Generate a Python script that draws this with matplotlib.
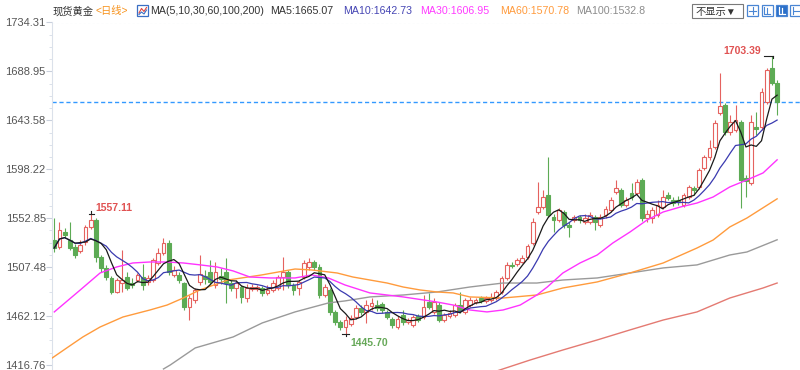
import matplotlib.pyplot as plt
import numpy as np
import pandas as pd
from matplotlib.patches import Rectangle
from matplotlib.lines import Line2D

plt.rcParams['font.family'] = ['Liberation Sans', 'Noto Sans CJK SC', 'DejaVu Sans']

# daily OHLC, spot gold
opens = [
    1532.6, 1526.1, 1540.0, 1532.6, 1526.1, 1522.4, 1530.8, 1544.7, 1551.2, 1516.9,
    1506.7, 1497.4, 1484.4, 1492.7, 1498.3, 1492.7, 1495.5, 1498.3, 1493.7, 1495.5,
    1511.3, 1520.6, 1529.8, 1500.2, 1500.2, 1492.7, 1470.5, 1477.0, 1493.7, 1499.2,
    1503.0, 1490.9, 1499.2, 1503.0, 1492.7, 1488.1, 1489.0, 1478.8, 1487.2, 1487.2,
    1488.1, 1483.5, 1486.3, 1488.1, 1498.3, 1503.0, 1490.9, 1488.1, 1498.3, 1507.6,
    1512.2, 1507.6, 1481.6, 1486.3, 1465.9, 1456.6, 1451.9, 1454.7, 1461.2, 1469.6,
    1465.9, 1471.4, 1472.3, 1473.3, 1465.9, 1459.4, 1451.9, 1463.1, 1456.6, 1453.8,
    1462.1, 1461.2, 1475.1, 1465.9, 1472.3, 1458.4, 1462.1, 1463.1, 1472.3, 1465.9,
    1472.3, 1475.1, 1478.8, 1476.1, 1477.0, 1478.8, 1484.4, 1497.4, 1509.5, 1510.4,
    1512.2, 1516.9, 1529.8, 1558.6, 1563.2, 1574.4, 1553.9, 1551.2, 1558.6, 1546.6,
    1551.2, 1553.9, 1549.3, 1549.3, 1553.9, 1546.6, 1555.8, 1560.4, 1577.1, 1579.0,
    1565.1, 1576.2, 1576.2, 1588.3, 1553.0, 1553.0, 1555.8, 1563.2, 1574.4, 1569.7,
    1569.7, 1565.1, 1572.5, 1580.8, 1581.8, 1599.4, 1609.6, 1618.9, 1650.4, 1657.8,
    1632.8, 1634.6, 1642.1, 1590.1, 1585.5, 1637.4, 1637.4, 1660.6, 1692.1, 1678.2,
]
highs = [
    1553.0, 1549.3, 1543.8, 1549.3, 1528.9, 1532.6, 1546.6, 1557.11, 1553.0, 1518.7,
    1509.5, 1499.2, 1497.4, 1523.4, 1503.0, 1497.4, 1502.0, 1510.4, 1500.2, 1515.9,
    1525.2, 1534.5, 1532.6, 1508.5, 1503.0, 1493.7, 1481.6, 1488.1, 1518.7, 1504.8,
    1514.1, 1512.2, 1506.7, 1515.9, 1495.5, 1495.5, 1490.9, 1491.8, 1491.8, 1490.9,
    1490.0, 1490.9, 1495.5, 1500.2, 1516.9, 1504.8, 1492.7, 1495.5, 1514.1, 1515.9,
    1514.1, 1510.4, 1491.8, 1488.1, 1467.7, 1458.4, 1462.1, 1463.1, 1472.3, 1472.3,
    1477.0, 1478.8, 1477.0, 1475.1, 1467.7, 1461.2, 1462.1, 1467.7, 1460.3, 1463.1,
    1464.0, 1481.6, 1483.5, 1478.8, 1475.1, 1464.9, 1467.7, 1474.2, 1484.4, 1478.8,
    1479.8, 1478.8, 1480.7, 1480.7, 1483.5, 1486.3, 1499.2, 1512.2, 1512.2, 1515.9,
    1518.7, 1528.9, 1553.0, 1586.4, 1579.0, 1609.6, 1556.7, 1562.3, 1560.4, 1549.3,
    1555.8, 1555.8, 1556.7, 1558.6, 1555.8, 1556.7, 1564.2, 1572.5, 1588.3, 1580.8,
    1572.5, 1585.5, 1589.2, 1590.1, 1560.4, 1563.2, 1569.7, 1579.0, 1577.1, 1572.5,
    1573.4, 1576.2, 1583.6, 1582.7, 1599.4, 1611.5, 1625.4, 1643.9, 1687.5, 1659.7,
    1648.5, 1657.8, 1643.9, 1592.9, 1648.5, 1651.3, 1673.6, 1692.1, 1703.39, 1681.0,
]
lows = [
    1521.5, 1524.3, 1534.5, 1523.4, 1515.9, 1520.6, 1528.0, 1542.8, 1512.2, 1503.0,
    1495.5, 1482.5, 1483.5, 1484.4, 1486.3, 1488.1, 1493.7, 1486.3, 1490.9, 1493.7,
    1509.5, 1518.7, 1500.2, 1498.3, 1492.7, 1467.7, 1458.4, 1474.2, 1490.9, 1491.8,
    1490.9, 1488.1, 1491.8, 1474.2, 1485.3, 1478.8, 1474.2, 1475.1, 1485.3, 1485.3,
    1480.7, 1481.6, 1484.4, 1486.3, 1486.3, 1488.1, 1481.6, 1481.6, 1496.5, 1504.8,
    1504.8, 1478.8, 1479.8, 1463.1, 1453.8, 1449.2, 1445.70, 1452.9, 1459.4, 1463.1,
    1455.7, 1467.7, 1466.8, 1464.9, 1459.4, 1451.0, 1450.1, 1453.8, 1454.7, 1451.9,
    1456.6, 1459.4, 1468.6, 1464.0, 1456.6, 1456.6, 1460.3, 1461.2, 1464.9, 1464.0,
    1470.5, 1473.3, 1474.2, 1474.2, 1475.1, 1477.0, 1482.5, 1495.5, 1506.7, 1508.5,
    1511.3, 1515.0, 1528.0, 1556.7, 1561.4, 1553.9, 1540.0, 1549.3, 1543.8, 1535.4,
    1549.3, 1548.4, 1547.5, 1547.5, 1541.9, 1544.7, 1553.0, 1558.6, 1575.3, 1563.2,
    1563.2, 1569.7, 1574.4, 1550.2, 1549.3, 1548.4, 1553.9, 1561.4, 1569.7, 1564.2,
    1565.1, 1563.2, 1570.7, 1574.4, 1579.9, 1597.5, 1606.8, 1617.0, 1648.5, 1630.0,
    1630.0, 1632.8, 1562.3, 1572.5, 1583.6, 1630.0, 1634.6, 1658.8, 1676.4, 1648.5,
]
closes = [
    1525.2, 1541.9, 1537.3, 1525.2, 1518.7, 1528.0, 1544.7, 1551.2, 1516.9, 1506.7,
    1498.3, 1484.4, 1495.5, 1495.5, 1488.1, 1490.9, 1500.2, 1490.9, 1497.4, 1514.1,
    1520.6, 1529.8, 1503.0, 1504.8, 1495.5, 1470.5, 1478.8, 1486.3, 1501.1, 1496.5,
    1493.7, 1503.0, 1496.5, 1492.7, 1488.1, 1492.7, 1479.8, 1488.1, 1489.0, 1489.0,
    1483.5, 1486.3, 1492.7, 1498.3, 1503.0, 1490.9, 1486.3, 1493.7, 1511.3, 1512.2,
    1507.6, 1481.6, 1489.0, 1465.9, 1456.6, 1451.9, 1458.4, 1460.3, 1469.6, 1465.9,
    1472.3, 1474.2, 1469.6, 1467.7, 1461.2, 1453.8, 1459.4, 1456.6, 1458.4, 1461.2,
    1458.4, 1470.5, 1470.5, 1475.1, 1458.4, 1463.1, 1464.9, 1472.3, 1466.8, 1477.0,
    1477.0, 1477.0, 1476.1, 1478.8, 1479.8, 1484.4, 1497.4, 1509.5, 1508.5, 1514.1,
    1515.9, 1527.1, 1549.3, 1563.2, 1572.5, 1555.8, 1551.2, 1560.4, 1546.6, 1544.7,
    1553.9, 1551.2, 1553.0, 1555.8, 1549.3, 1553.9, 1561.4, 1569.7, 1580.8, 1565.1,
    1569.7, 1572.5, 1586.4, 1553.0, 1556.7, 1560.4, 1565.1, 1572.5, 1571.6, 1566.9,
    1567.9, 1574.4, 1581.8, 1579.0, 1597.5, 1609.6, 1617.9, 1641.1, 1656.9, 1632.8,
    1642.1, 1643.9, 1588.3, 1587.3, 1642.1, 1635.6, 1669.9, 1690.3, 1678.2, 1660.6,
]

# long moving averages (candle index, value)
ma30_x = [0, 5, 8.8, 12, 15.1, 18.4, 21.7, 24.8, 28.1, 31.3, 34.4, 37.6, 41.5, 46.3,
          49.5, 52.7, 55.9, 60.7, 67.1, 73.6, 76.7, 79.9, 83.2, 86.3, 89.6, 92.8,
          94.8, 97.8, 101.1, 104.4, 107.4, 110.7, 114.0, 117.1, 120.4, 123.6, 126.7,
          129.9, 133.2, 136.3, 139]
ma30_y = [1465.9, 1486.3, 1502.0, 1507.6, 1511.3, 1512.2, 1512.2, 1511.3, 1509.5,
          1507.6, 1503.9, 1498.3, 1497.4, 1497.4, 1500.2, 1497.4, 1490.9, 1483.5,
          1479.8, 1475.1, 1472.3, 1467.7, 1465.9, 1467.7, 1472.3, 1481.6, 1489.0,
          1502.0, 1511.3, 1518.7, 1529.8, 1540.0, 1551.2, 1558.6, 1563.2, 1566.9,
          1572.5, 1581.8, 1588.3, 1594.8, 1606.95]
ma60_x = [-0.4, 2.4, 5.5, 8.8, 13.2, 18.4, 21.7, 24.8, 28.0, 33.4, 39.9, 46.3, 49.5,
          54.4, 57.4, 60.7, 64.0, 67.1, 70.3, 73.6, 76.7, 79.9, 86.3, 92.8, 97.8,
          104.4, 110.7, 117.1, 123.6, 126.7, 129.9, 133.2, 139]
ma60_y = [1423.2, 1432.5, 1442.7, 1451.9, 1461.2, 1467.7, 1472.3, 1478.8, 1486.3,
          1495.5, 1500.2, 1505.7, 1504.8, 1502.0, 1498.3, 1495.5, 1492.7, 1489.0,
          1486.3, 1484.4, 1483.5, 1479.8, 1478.8, 1481.6, 1488.1, 1493.7, 1502.0,
          1511.3, 1525.2, 1532.6, 1544.7, 1553.0, 1570.78]
ma100_x = [21, 22.3, 27.1, 34.4, 40.0, 46.3, 52.7, 55.9, 60.7, 67.1, 73.6, 79.9, 86.3,
           92.8, 97.8, 104.4, 110.7, 117.1, 123.6, 129.9, 133.2, 139]
ma100_y = [1413.0, 1416.7, 1432.5, 1442.7, 1455.7, 1465.9, 1474.2, 1476.1, 1479.8,
           1481.6, 1484.4, 1489.0, 1492.7, 1492.7, 1495.5, 1497.4, 1502.0, 1506.7,
           1509.5, 1518.7, 1521.5, 1532.8]
ma200_x = [85, 91.5, 97.8, 104.4, 110.7, 117.1, 123.6, 129.9, 136.3, 139]
ma200_y = [1411.0, 1421.3, 1430.6, 1439.9, 1449.2, 1458.4, 1465.9, 1478.8, 1488.1, 1492.7]

yticks = [1734.31, 1688.95, 1643.58, 1598.22, 1552.85, 1507.48, 1462.12, 1416.76]

RED = '#e5625f'
GREEN = '#5dab55'
YMIN, YMAX = 1410, 1734.31

fig = plt.figure(figsize=(8, 3.7), dpi=100)
ax = fig.add_axes([52 / 800, 1 - 372.2 / 370, 748 / 800, 349.7 / 370])

x = np.arange(len(closes))
o = np.array(opens)
h = np.array(highs)
l = np.array(lows)
c = np.array(closes)
up = c >= o
lo_b = np.minimum(o, c)
hi_b = np.maximum(o, c)
hgt = np.maximum(hi_b - lo_b, 0.5)
cols = np.where(up, RED, GREEN)

ax.vlines(x, hi_b, h, colors=cols, lw=0.8, zorder=2)
ax.vlines(x, l, lo_b, colors=cols, lw=0.8, zorder=2)
ax.bar(x[up], hgt[up], bottom=lo_b[up], width=0.7, facecolor='white',
       edgecolor=RED, linewidth=0.8, zorder=2)
ax.bar(x[~up], hgt[~up], bottom=lo_b[~up], width=0.7, facecolor=GREEN,
       edgecolor=GREEN, linewidth=0.8, zorder=2)

cs = pd.Series(closes)
ma5 = cs.rolling(5, min_periods=1).mean()
ma10 = cs.rolling(10, min_periods=1).mean()

ax.plot(ma200_x, ma200_y, color='#e47a72', lw=1, zorder=3)
ax.plot(ma100_x, ma100_y, color='#9a9a9a', lw=1, zorder=3)
ax.plot(ma60_x, ma60_y, color='#ff9b3d', lw=1, zorder=3)
ax.plot(ma30_x, ma30_y, color='#ff33ff', lw=1, zorder=3)
ax.plot(x, ma10, color='#3a3ab0', lw=0.9, zorder=3)
ax.plot(x, ma5, color='#1a1a1a', lw=0.9, zorder=3)

# last price line and top border
ax.axhline(closes[-1], color='#3399ff', lw=1, ls=(0, (3, 2)), zorder=1)
ax.axhline(yticks[0], color='#d5dbe5', lw=0.8, ls=(0, (2, 2)), zorder=1)

# high / low markers
ax.plot([6.6, 7.6], [1557.11, 1557.11], color='#222', lw=0.8, zorder=4)
ax.plot([7, 7], [1557.11, 1559.6], color='#222', lw=0.8, zorder=4)
ax.text(7.83, 1562.3, '1557.11', color='#e05252', fontsize=7.5,
        fontweight='bold', ha='left', va='center')
ax.plot([136.4, 138.3], [1703.39, 1703.39], color='#222', lw=0.8, zorder=4)
ax.plot([138.3, 138.3], [1701.2, 1703.39], color='#222', lw=0.8, zorder=4)
ax.text(135.9, 1707.9, '1703.39', color='#e05252', fontsize=7.5,
        fontweight='bold', ha='right', va='center')
ax.plot([55.4, 56.6], [1445.70, 1445.70], color='#222', lw=0.8, zorder=4)
ax.plot([56, 56], [1443.3, 1445.70], color='#222', lw=0.8, zorder=4)
ax.text(56.9, 1437.4, '1445.70', color='#66a858', fontsize=7.5,
        fontweight='bold', ha='left', va='center')

# axes styling
for s in ['top', 'right', 'bottom']:
    ax.spines[s].set_visible(False)
ax.spines['left'].set_color('#dbe1ea')
ax.spines['left'].set_linewidth(0.8)
ax.set_xticks([])
ax.set_yticks(yticks)
ax.set_yticklabels(['%.2f' % v for v in yticks])
step = yticks[0] - yticks[1]
minor = [v - k * step / 4 for v in yticks for k in (1, 2, 3)]
minor = [v for v in minor if v > YMIN]
ax.set_yticks(minor, minor=True)
ax.tick_params(axis='y', which='major', length=4, color='#c9d0dc', labelcolor='#555555',
               labelsize=8, pad=0.5)
ax.tick_params(axis='y', which='minor', length=2.5, color='#d6dce6')
ax.set_xlim(-0.44, 143.4)
ax.set_ylim(YMIN, YMAX)


# header (pixel positions, y from top)
def ftext(xp, yp, s, **kw):
    fig.text(xp / 800, 1 - yp / 370, s, va='center', **kw)


def fbox(x0, y0, w, hh, **kw):
    fig.add_artist(Rectangle((x0 / 800, 1 - (y0 + hh) / 370), w / 800, hh / 370,
                             transform=fig.transFigure, **kw))


def fline(xs, ys, **kw):
    fig.add_artist(Line2D([v / 800 for v in xs], [1 - v / 370 for v in ys],
                          transform=fig.transFigure, **kw))


hs = 7.7
ftext(53, 11, '现货黄金', fontsize=7.4, color='#333333')
ftext(95, 11, '<日线>', fontsize=7.4, color='#f7931e')
fbox(137, 5, 11, 11, facecolor='white', edgecolor='#3a6fc4', lw=0.9)
fline([139, 141.5, 144, 146.5], [13, 8.5, 11.5, 7.5], color='#e0443c', lw=0.8)
fline([139, 141.5, 144, 146.5], [14.5, 12, 14, 10], color='#3a6fc4', lw=0.8)
ftext(150, 11, 'MA(5,10,30,60,100,200)', fontsize=hs, color='#333333')
ftext(270, 11, 'MA5:1665.07', fontsize=hs, color='#333333')
ftext(343, 11, 'MA10:1642.73', fontsize=hs, color='#4646b4')
ftext(420, 11, 'MA30:1606.95', fontsize=hs, color='#ff3cff')
ftext(500, 11, 'MA60:1570.78', fontsize=hs, color='#ff9b3d')
ftext(576, 11, 'MA100:1532.8', fontsize=hs, color='#8c8c8c')

fbox(692, 4, 51, 14, facecolor='white', edgecolor='#7a7a7a', lw=0.8)
ftext(695, 11.5, '不显示▼', fontsize=7.4, color='#333333')

for i, x0 in enumerate([747, 761.5, 776, 790]):
    filled = i == 2
    fbox(x0, 5, 11, 11, facecolor='#2a6fc9' if filled else 'white',
         edgecolor='#4a86d4', lw=0.9)
fline([749, 756], [10.5, 10.5], color='#4a86d4', lw=0.8)
fline([752.5, 752.5], [7, 14], color='#4a86d4', lw=0.8)
fline([764, 764, 770], [7, 14, 14], color='#4a86d4', lw=0.8)
fline([767, 767], [8, 13], color='#4a86d4', lw=0.8)
fline([778.5, 778.5, 784.5], [7, 14, 14], color='white', lw=0.9)
fline([781.5, 781.5], [8, 13], color='white', lw=0.9)
fline([792.5, 792.5], [7, 14], color='#4a86d4', lw=0.8)
fline([794, 799], [10.5, 10.5], color='#4a86d4', lw=0.8)

fig.savefig('out.png', dpi=100)
